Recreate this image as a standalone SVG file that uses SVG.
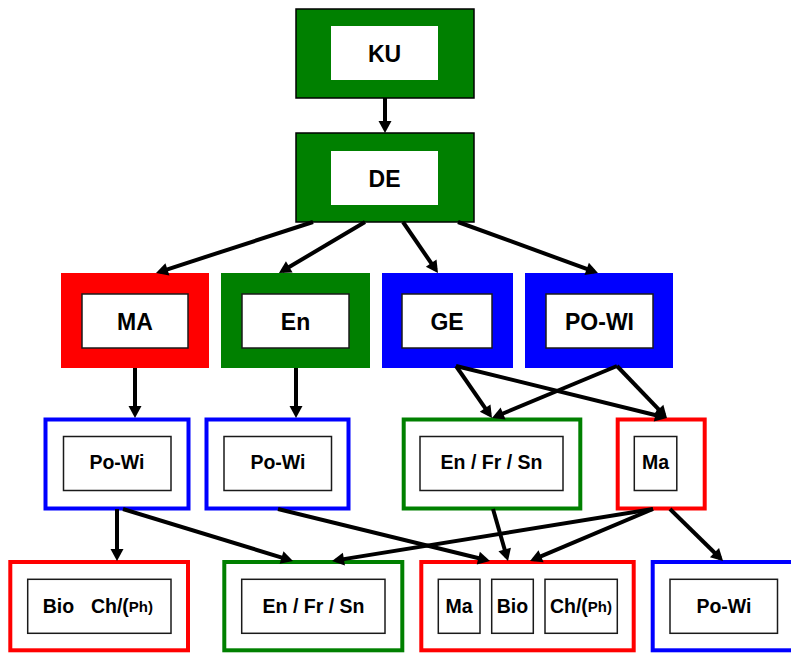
<svg xmlns="http://www.w3.org/2000/svg" width="791" height="653" viewBox="0 0 791 653">
<defs>
<marker id="ah" markerUnits="userSpaceOnUse" markerWidth="12" markerHeight="13" refX="8" refY="6.5" orient="auto" overflow="visible">
<path d="M0,0 L12,6.5 L0,13 z" fill="#000"/>
</marker>
<style>
text{font-family:"Liberation Sans",Arial,Helvetica,sans-serif;font-weight:bold;fill:#000;text-anchor:middle;dominant-baseline:central}
.t1{font-size:23px}
.t2{font-size:19.5px}
.sm{font-size:15px}
.top{fill:#008000;stroke:#000;stroke-width:1.5}
.inw{fill:#fff;stroke:none}
.inb{fill:#fff;stroke:#1a1a1a;stroke-width:1.5}
.fr{fill:#ff0000}
.fg{fill:#008000}
.fb{fill:#0000ff}
.or{fill:#fff;stroke:#ff0000;stroke-width:4}
.og{fill:#fff;stroke:#008000;stroke-width:4}
.ob{fill:#fff;stroke:#0000ff;stroke-width:4}
.c line{stroke:#000;stroke-width:4;marker-end:url(#ah)}
</style>
</defs>
<g id="KU"><rect class="top" x="296" y="9" width="178" height="89"/><rect class="inw" x="331" y="26" width="107" height="54"/><text class="t1" x="384.5" y="54">KU</text></g>
<g id="DE"><rect class="top" x="296" y="133" width="178" height="89"/><rect class="inw" x="331" y="151" width="107" height="54"/><text class="t1" x="384.5" y="179">DE</text></g>
<g id="MA"><rect class="fr" x="61" y="273" width="148" height="95"/><rect class="inb" x="82" y="294" width="106" height="54"/><text class="t1" x="135" y="322">MA</text></g>
<g id="En"><rect class="fg" x="221" y="273" width="149" height="95"/><rect class="inb" x="242" y="294" width="107" height="54"/><text class="t1" x="295.5" y="322">En</text></g>
<g id="GE"><rect class="fb" x="382" y="273" width="131" height="95"/><rect class="inb" x="402" y="294" width="90" height="54"/><text class="t1" x="447" y="322">GE</text></g>
<g id="PO-WI"><rect class="fb" x="525" y="273" width="148" height="95"/><rect class="inb" x="546" y="294" width="107" height="54"/><text class="t1" x="599.5" y="322">PO-WI</text></g>
<g id="PoWi1"><rect class="ob" x="45.5" y="419.5" width="143" height="89"/><rect class="inb" x="63.5" y="436.5" width="107.5" height="54"/><text class="t2" x="117" y="462">Po-Wi</text></g>
<g id="PoWi2"><rect class="ob" x="206.5" y="419.5" width="142" height="89"/><rect class="inb" x="224" y="436.5" width="107.5" height="54"/><text class="t2" x="278" y="462">Po-Wi</text></g>
<g id="EnFrSn1"><rect class="og" x="403.7" y="419.5" width="176.6" height="89"/><rect class="inb" x="420" y="436.5" width="143" height="54"/><text class="t2" x="491.5" y="462">En / Fr / Sn</text></g>
<g id="Ma1"><rect class="or" x="617.7" y="419.5" width="87" height="89"/><rect class="inb" x="634.3" y="436.5" width="42.5" height="54"/><text class="t2" x="655.5" y="462">Ma</text></g>
<g id="BioCh"><rect class="or" x="10.3" y="562" width="177.7" height="88.3"/><rect class="inb" x="27.7" y="579.3" width="143.3" height="54"/><text class="t2" x="58.5" y="606">Bio</text><text class="t2" x="122" y="606" text-anchor="middle">Ch/(<tspan class="sm">Ph)</tspan></text></g>
<g id="EnFrSn2"><rect class="og" x="224.3" y="562" width="178" height="88.3"/><rect class="inb" x="241.7" y="579.3" width="143.3" height="54"/><text class="t2" x="313.5" y="606">En / Fr / Sn</text></g>
<g id="MaBioCh"><rect class="or" x="421.3" y="562" width="212.4" height="88.3"/><rect class="inb" x="438.3" y="579.3" width="41.7" height="54"/><text class="t2" x="459" y="606">Ma</text><rect class="inb" x="491.7" y="579.3" width="41.6" height="54"/><text class="t2" x="512.5" y="606">Bio</text><rect class="inb" x="545" y="579.3" width="72.3" height="54"/><text class="t2" x="581" y="606">Ch/(<tspan class="sm">Ph)</tspan></text></g>
<g id="PoWi3"><rect class="ob" x="652.7" y="562" width="160" height="88.3"/><rect class="inb" x="670" y="579.3" width="107.5" height="54"/><text class="t2" x="724" y="606">Po-Wi</text></g>
<g id="connectors" class="c">
<line x1="385" y1="98" x2="385" y2="129"/>
<line x1="313" y1="222" x2="159.8" y2="271.8"/>
<line x1="365" y1="222" x2="282.4" y2="271"/>
<line x1="403" y1="222" x2="435.7" y2="269.7"/>
<line x1="458" y1="222" x2="594.2" y2="271.6"/>
<line x1="135" y1="368" x2="135" y2="414"/>
<line x1="296" y1="368" x2="296" y2="414"/>
<line x1="456" y1="366" x2="489.7" y2="414.7"/>
<line x1="456" y1="366" x2="663.1" y2="417"/>
<line x1="617" y1="366" x2="495.7" y2="416.5"/>
<line x1="617" y1="366" x2="664.2" y2="415.1"/>
<line x1="117" y1="509" x2="117" y2="557"/>
<line x1="123" y1="509" x2="289.2" y2="559.8"/>
<line x1="278" y1="509" x2="486.1" y2="560"/>
<line x1="493" y1="509" x2="506.9" y2="557.2"/>
<line x1="653" y1="509" x2="533.7" y2="559.4"/>
<line x1="653" y1="509" x2="336" y2="560.4"/>
<line x1="670" y1="509" x2="720.2" y2="558.2"/>
</g>
</svg>
